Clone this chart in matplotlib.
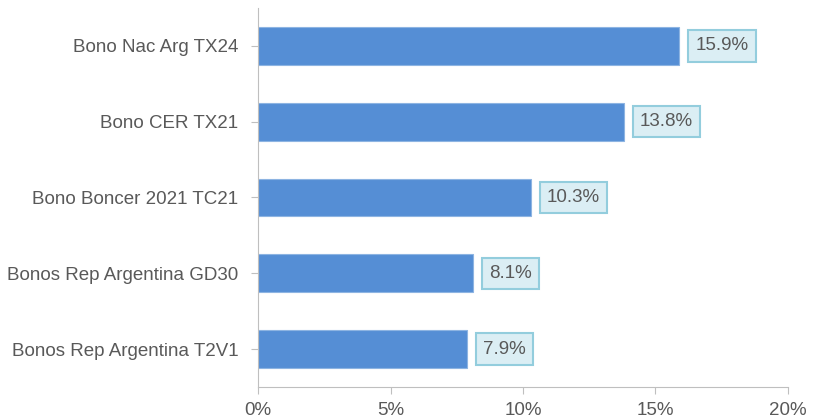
import matplotlib.pyplot as plt
from matplotlib.ticker import FuncFormatter

plt.rcParams['font.family'] = ['Liberation Sans', 'DejaVu Sans']

# Data
bonds = ["Bono Nac Arg TX24", "Bono CER TX21", "Bono Boncer 2021 TC21",
         "Bonos Rep Argentina GD30", "Bonos Rep Argentina T2V1"]
values = [15.9, 13.8, 10.3, 8.1, 7.9]

fig = plt.figure(figsize=(8.22, 4.16), dpi=100)
ax = fig.add_axes([0.3139, 0.0697, 0.6447, 0.9111])

pos = list(range(len(bonds)))
ax.barh(pos, values, height=0.5, color="#558ED5", edgecolor="#8DB4E2", linewidth=0.8)

# value labels in boxes
for p, v in zip(pos, values):
    ax.annotate(f"{v:.1f}%", xy=(v, p), xytext=(11.5, 0), textcoords="offset points",
                va="center", ha="left", fontsize=13.5, color="#595959",
                bbox=dict(boxstyle="square,pad=0.38", facecolor="#DBEEF4",
                          edgecolor="#93CDDD", linewidth=1.5))

ax.set_xlim(0, 20)
ax.set_ylim(4.5, -0.5)
ax.set_yticks(pos)
ax.set_yticklabels(bonds)
ax.set_xticks([0, 5, 10, 15, 20])
ax.xaxis.set_major_formatter(FuncFormatter(lambda x, _: f"{x:.0f}%"))

for side in ["top", "right"]:
    ax.spines[side].set_visible(False)
for side in ["left", "bottom"]:
    ax.spines[side].set_color("#BFBFBF")
ax.tick_params(axis="both", colors="#BFBFBF", length=5, labelsize=13.5,
               labelcolor="#595959")
ax.tick_params(axis="y", pad=9)
ax.tick_params(axis="x", pad=6)

plt.savefig("out.png", dpi=100)
